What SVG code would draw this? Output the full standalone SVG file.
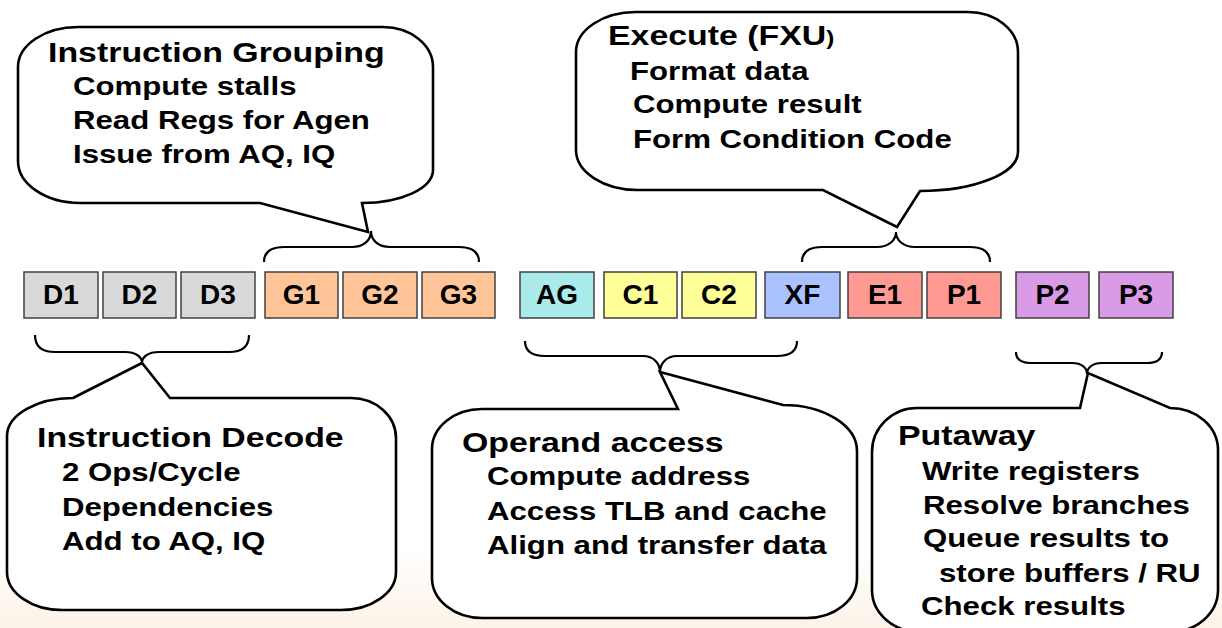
<svg xmlns="http://www.w3.org/2000/svg" width="1222" height="628" viewBox="0 0 1222 628">
<defs>
<linearGradient id="bg" x1="0" y1="0" x2="0" y2="1">
<stop offset="0" stop-color="#ffffff"/>
<stop offset="1" stop-color="#fcf3e8"/>
</linearGradient>
<style>
.bubble{fill:#ffffff;stroke:#000000;stroke-width:2.6;stroke-linejoin:miter}
.brace{fill:none;stroke:#000000;stroke-width:2.2}
.stage{stroke:#404040;stroke-width:1.5}
.lbl{font-family:"Liberation Sans",Arial,sans-serif;font-weight:bold;font-size:28px;fill:#000;text-anchor:middle}
.t{font-family:"Liberation Sans",Arial,sans-serif;font-weight:bold;font-size:28px;fill:#000}
.s{font-family:"Liberation Sans",Arial,sans-serif;font-weight:bold;font-size:26px;fill:#000}
</style>
</defs>
<rect x="0" y="0" width="1222" height="628" fill="#ffffff"/>
<rect x="0" y="550" width="1222" height="78" fill="url(#bg)"/>

<g id="connectors">
<path class="brace" d="M 264,262 C 264,252 270,247 284,247 H 352 C 364,247 371,240 371,231 C 371,240 378,247 390,247 H 459 C 473,247 479,252 479,262"/>
<path class="brace" d="M 802,262 C 802,252 808,247 822,247 H 877 C 889,247 896,240 896,232 C 896,240 903,247 915,247 H 970 C 984,247 990,252 990,262"/>
<path class="brace" d="M 35,335 C 35,346 42,352 55,352 H 125 C 136,352 142,357 142,363 C 142,357 148,352 159,352 H 229 C 242,352 249,346 249,335"/>
<path class="brace" d="M 525,341 C 525,351 532,356 545,356 H 643 C 654,356 660,364 660,372 C 660,364 666,356 677,356 H 777 C 790,356 797,351 797,341"/>
<path class="brace" d="M 1016,352 C 1016,359 1021,363 1031,363 H 1072 C 1082,363 1087,368 1087,374 C 1087,368 1092,363 1102,363 H 1147 C 1157,363 1162,359 1162,352"/>
</g>

<g id="stages">
<g id="D1"><rect class="stage" x="24" y="272" width="74" height="46" fill="#d9d9d9"/><text class="lbl" x="61" y="304">D1</text></g>
<g id="D2"><rect class="stage" x="103" y="272" width="73" height="46" fill="#d9d9d9"/><text class="lbl" x="139.5" y="304">D2</text></g>
<g id="D3"><rect class="stage" x="181" y="272" width="74" height="46" fill="#d9d9d9"/><text class="lbl" x="218" y="304">D3</text></g>
<g id="G1"><rect class="stage" x="265" y="272" width="73" height="46" fill="#ffc598"/><text class="lbl" x="301.5" y="304">G1</text></g>
<g id="G2"><rect class="stage" x="343" y="272" width="74" height="46" fill="#ffc598"/><text class="lbl" x="380" y="304">G2</text></g>
<g id="G3"><rect class="stage" x="422" y="272" width="73" height="46" fill="#ffc598"/><text class="lbl" x="458.5" y="304">G3</text></g>
<g id="AG"><rect class="stage" x="520" y="272" width="74" height="46" fill="#aaeaea"/><text class="lbl" x="557" y="304">AG</text></g>
<g id="C1"><rect class="stage" x="604" y="272" width="73" height="46" fill="#ffff99"/><text class="lbl" x="640.5" y="304">C1</text></g>
<g id="C2"><rect class="stage" x="682" y="272" width="74" height="46" fill="#ffff99"/><text class="lbl" x="719" y="304">C2</text></g>
<g id="XF"><rect class="stage" x="765" y="272" width="75" height="46" fill="#aac3ff"/><text class="lbl" x="802.5" y="304">XF</text></g>
<g id="E1"><rect class="stage" x="848" y="272" width="74" height="46" fill="#ff9a93"/><text class="lbl" x="885" y="304">E1</text></g>
<g id="P1"><rect class="stage" x="927" y="272" width="74" height="46" fill="#ff9a93"/><text class="lbl" x="964" y="304">P1</text></g>
<g id="P2"><rect class="stage" x="1016" y="272" width="73" height="46" fill="#d99ae6"/><text class="lbl" x="1052.5" y="304">P2</text></g>
<g id="P3"><rect class="stage" x="1099" y="272" width="74" height="46" fill="#d99ae6" stroke="#3a2a40"/><text class="lbl" x="1136" y="304">P3</text></g>
</g>

<g id="grouping">
<path class="bubble" d="M 78,27 H 383 A 50,40 0 0 1 433,67 V 170 A 71,33 0 0 1 362,203 L 368,232 L 260,203 H 80 A 62,42 0 0 1 18,161 V 67 A 60,40 0 0 1 78,27 Z"/>
<text class="t" transform="translate(48,62) scale(1.21,1)">Instruction Grouping</text>
<text class="s" transform="translate(73,95) scale(1.2,1)">Compute stalls</text>
<text class="s" transform="translate(73,129) scale(1.2,1)">Read Regs for Agen</text>
<text class="s" transform="translate(73,163) scale(1.2,1)">Issue from AQ, IQ</text>
</g>

<g id="execute">
<path class="bubble" d="M 636,12 H 968 A 50,40 0 0 1 1018,52 V 152 A 98,39 0 0 1 920,191 L 897,227 L 823,190 H 638 A 62,40 0 0 1 576,150 V 52 A 60,40 0 0 1 636,12 Z"/>
<text class="t" transform="translate(608,45) scale(1.21,1)">Execute (FXU<tspan font-size="20">)</tspan></text>
<text class="s" transform="translate(630,80) scale(1.2,1)">Format data</text>
<text class="s" transform="translate(633,113) scale(1.2,1)">Compute result</text>
<text class="s" transform="translate(633,148) scale(1.2,1)">Form Condition Code</text>
</g>

<g id="decode">
<path class="bubble" d="M 73,398 L 142,363 L 170,398 H 351 A 45,40 0 0 1 396,438 V 572 A 55,38 0 0 1 341,610 H 62 A 55,38 0 0 1 7,572 V 436 A 66,38 0 0 1 73,398 Z"/>
<text class="t" transform="translate(37,447) scale(1.21,1)">Instruction Decode</text>
<text class="s" transform="translate(62,481) scale(1.2,1)">2 Ops/Cycle</text>
<text class="s" transform="translate(62,516) scale(1.2,1)">Dependencies</text>
<text class="s" transform="translate(62,550) scale(1.2,1)">Add to AQ, IQ</text>
</g>

<g id="operand">
<path class="bubble" d="M 678,409 L 660,372 L 783,405 A 74,46 0 0 1 857,451 V 578 A 50,40 0 0 1 807,618 H 482 A 50,40 0 0 1 432,578 V 449 A 50,40 0 0 1 482,409 Z"/>
<text class="t" transform="translate(462,452) scale(1.21,1)">Operand access</text>
<text class="s" transform="translate(487,485) scale(1.2,1)">Compute address</text>
<text class="s" transform="translate(487,520) scale(1.2,1)">Access TLB and cache</text>
<text class="s" transform="translate(487,554) scale(1.2,1)">Align and transfer data</text>
</g>

<g id="putaway">
<path class="bubble" d="M 1080,408 L 1088,373 L 1170,408 A 48,42 0 0 1 1218,450 V 590 A 48,42 0 0 1 1170,632 H 920 A 48,42 0 0 1 872,590 V 452 A 45,44 0 0 1 917,408 Z"/>
<text class="t" transform="translate(898,445) scale(1.21,1)">Putaway</text>
<text class="s" transform="translate(922,480) scale(1.2,1)">Write registers</text>
<text class="s" transform="translate(923,514) scale(1.2,1)">Resolve branches</text>
<text class="s" transform="translate(923,547) scale(1.2,1)">Queue results to</text>
<text class="s" transform="translate(939,582) scale(1.2,1)">store buffers / RU</text>
<text class="s" transform="translate(921,615) scale(1.2,1)">Check results</text>
</g>
</svg>
